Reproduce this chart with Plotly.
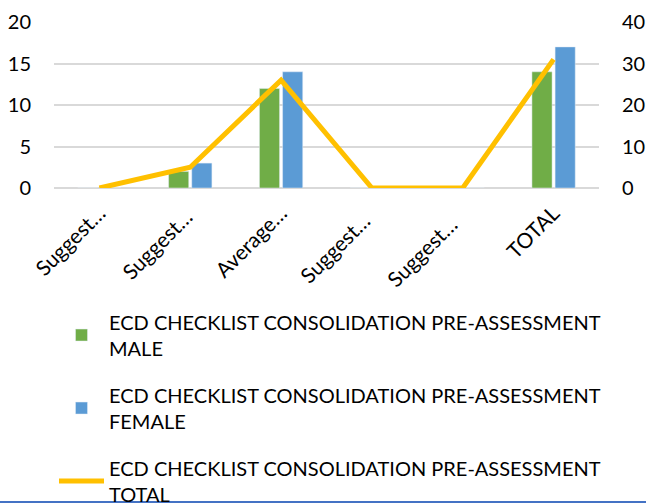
import plotly.graph_objects as go

categories = ["Suggest…", "Suggest… ", "Average…", "Suggest…  ", "Suggest…   ", "TOTAL"]
male = [0, 2, 12, 0, 0, 14]
female = [0, 3, 14, 0, 0, 17]
total = [0, 5, 26, 0, 0, 31]

name_m = "ECD CHECKLIST CONSOLIDATION PRE-ASSESSMENT<br>MALE"
name_f = "ECD CHECKLIST CONSOLIDATION PRE-ASSESSMENT<br>FEMALE"
name_t = "ECD CHECKLIST CONSOLIDATION PRE-ASSESSMENT<br>TOTAL"

FONT = "Lato"

fig = go.Figure()
fig.add_trace(go.Bar(x=categories, y=male, name=name_m, marker_color="#70AD47",
                     legendgroup="m"))
fig.add_trace(go.Bar(x=categories, y=female, name=name_f, marker_color="#5B9BD5",
                     legendgroup="f"))
fig.add_trace(go.Scatter(x=categories, y=total, name=name_t, mode="lines",
                         line=dict(color="#FFC000", width=5), yaxis="y2",
                         legendgroup="t"))

fig.update_layout(
    width=646, height=504,
    margin=dict(l=54, r=47, t=22, b=316, autoexpand=False),
    paper_bgcolor="white", plot_bgcolor="white",
    font=dict(family=FONT, size=17, color="#000000"),
    barmode="group", bargap=0.49, bargroupgap=0.13,
    showlegend=True,
    legend=dict(x=0.0, xanchor="left", y=-0.69, yanchor="top",
                orientation="v", tracegroupgap=18, itemwidth=45,
                bgcolor="rgba(0,0,0,0)",
                font=dict(family=FONT, size=20, color="#000000")),
    xaxis=dict(tickangle=-45, showgrid=False, showline=False, ticks="",
               tickfont=dict(size=21), ticklabelstandoff=8),
    yaxis=dict(range=[0, 20], dtick=5, showgrid=True, gridcolor="#D9D9D9",
               gridwidth=1.5, zeroline=True, zerolinecolor="#D9D9D9", zerolinewidth=1.5,
               tickfont=dict(size=20), ticks="", ticklabelstandoff=22),
    yaxis2=dict(range=[0, 40], dtick=10, overlaying="y", side="right",
                showgrid=False, zeroline=False, tickfont=dict(size=20), ticks="",
                ticklabelstandoff=22),
)
fig.add_shape(type="line", xref="paper", yref="paper", x0=-0.2, x1=1.5, y0=-1.8916, y1=-1.8916,
              line=dict(color="#4472C4", width=2))

fig.write_html("out.html", post_script="document.body.style.margin='0px';",
               config={"displayModeBar": False})
